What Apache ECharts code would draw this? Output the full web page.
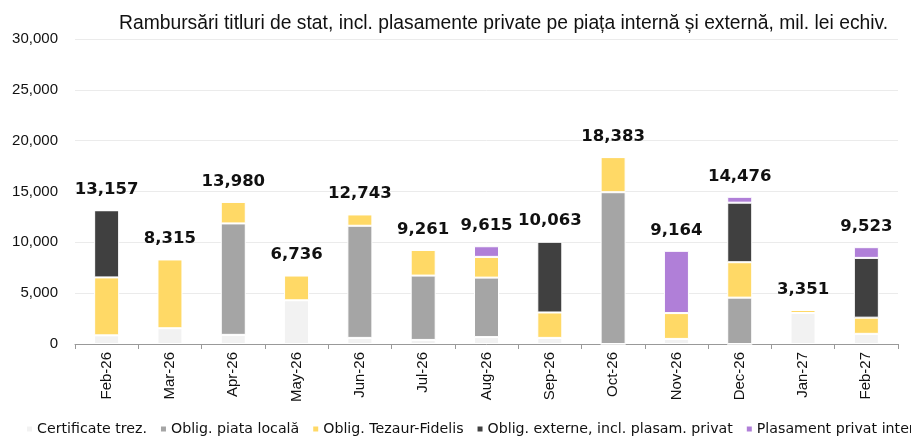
<!DOCTYPE html>
<html>
<head>
<meta charset="utf-8">
<script src="https://cdn.jsdelivr.net/npm/echarts@6/dist/echarts.min.js"></script>
<style>
  html, body { margin: 0; padding: 0; background: #fff; }
  #chart { width: 911px; height: 437px; }
</style>
</head>
<body>
<div id="chart"></div>
<script>
// luni
var months = ['Feb-26', 'Mar-26', 'Apr-26', 'May-26', 'Jun-26', 'Jul-26', 'Aug-26', 'Sep-26', 'Oct-26', 'Nov-26', 'Dec-26', 'Jan-27', 'Feb-27']

// valori, mil. lei
var certificate = [850, 1550, 900, 4300, 600, 400, 680, 600, 0, 500, 0, 3050, 1000]
var obligLocala = [0, 0, 10960, 0, 11030, 6330, 5850, 0, 14930, 0, 4560, 0, 0]
var tezaur = [5700, 6765, 2120, 2436, 1113, 2531, 2040, 2500, 3453, 2540, 3485, 301, 1590]
var externe = [6607, 0, 0, 0, 0, 0, 0, 6963, 0, 0, 5855, 0, 5880]
var plasamentIntern = [0, 0, 0, 0, 0, 0, 1045, 0, 0, 6124, 576, 0, 1053]
var totals = [13157, 8315, 13980, 6736, 12743, 9261, 9615, 10063, 18383, 9164, 14476, 3351, 9523]

var chart = echarts.init(document.getElementById('chart'))

function stackSeries (name, data, color) {
  return {
    name: name,
    type: 'bar',
    stack: 'total',
    barWidth: 25,
    data: data,
    itemStyle: { color: color, borderColor: '#fff', borderWidth: 1 },
    emphasis: { disabled: true }
  }
}

var option = {
  animation: false,
  textStyle: { fontFamily: 'Liberation Sans, Arial, sans-serif' },
  title: {
    text: 'Rambursări titluri de stat, incl. plasamente private pe piața internă și externă, mil. lei echiv.',
    left: 114,
    top: 9,
    textStyle: { fontSize: 19.3, fontWeight: 'normal', color: '#111' }
  },
  legend: {
    left: 20,
    bottom: -4,
    width: 1300,
    itemWidth: 7,
    itemHeight: 7,
    itemGap: 12,
    icon: 'rect',
    textStyle: { fontSize: 14.2, fontFamily: 'DejaVu Sans', color: '#111', padding: [0, 0, 0, -1] },
    data: ['Certificate trez.', 'Oblig. piata locală', 'Oblig. Tezaur-Fidelis', 'Oblig. externe, incl. plasam. privat', 'Plasament privat intern']
  },
  grid: { left: 75, right: 13, top: 39, bottom: 93 },
  xAxis: {
    type: 'category',
    data: months,
    axisLine: { lineStyle: { color: '#999' } },
    axisTick: { show: true, length: 5, lineStyle: { color: '#999' } },
    axisLabel: { rotate: 90, fontSize: 15, color: '#111', margin: 8 }
  },
  yAxis: {
    type: 'value',
    min: 0,
    max: 30000,
    interval: 5000,
    axisLine: { show: false },
    axisTick: { show: false },
    splitLine: { lineStyle: { color: '#ebebeb' } },
    axisLabel: {
      fontSize: 15,
      color: '#111',
      margin: 17,
      formatter: function (v) { return v.toLocaleString('en-US') }
    }
  },
  series: [
    stackSeries('Certificate trez.', certificate, '#f2f2f2'),
    stackSeries('Oblig. piata locală', obligLocala, '#a5a5a5'),
    stackSeries('Oblig. Tezaur-Fidelis', tezaur, '#ffd966'),
    stackSeries('Oblig. externe, incl. plasam. privat', externe, '#404040'),
    stackSeries('Plasament privat intern', plasamentIntern, '#b07fd8'),
    {
      name: 'Total',
      type: 'bar',
      barWidth: 25,
      barGap: '-100%',
      z: 1,
      data: totals,
      itemStyle: { color: 'rgba(0,0,0,0)' },
      emphasis: { disabled: true },
      label: {
        show: true,
        position: 'top',
        distance: 12,
        fontSize: 16.5,
        fontFamily: 'DejaVu Sans',
        fontWeight: 'bold',
        color: '#111',
        formatter: function (p) { return p.value.toLocaleString('en-US') }
      }
    }
  ]
}

chart.setOption(option)
</script>
</body>
</html>
